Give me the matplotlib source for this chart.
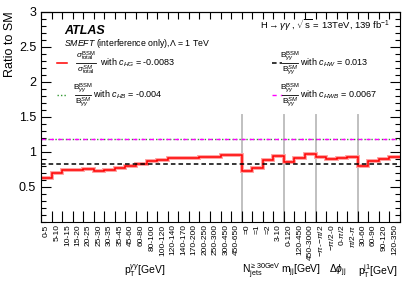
import numpy as np
import matplotlib.pyplot as plt

plt.rcParams['font.family'] = ['Liberation Sans', 'DejaVu Sans']
plt.rcParams['mathtext.fontset'] = 'custom'
plt.rcParams['mathtext.rm'] = 'Liberation Sans'
plt.rcParams['mathtext.it'] = 'Liberation Sans:italic'
plt.rcParams['mathtext.bf'] = 'Liberation Sans:bold'

bin_labels = ['0-5', '5-10', '10-15', '15-20', '20-25', '25-30', '30-35', '35-45',
              '45-60', '60-80', '80-100', '100-120', '120-140', '140-170', '170-200',
              '200-250', '250-300', '300-450', '450-650',
              '=0', '=1', '=2', '3-10',
              '0-120', '120-450', '450-3000',
              r'$-\pi$-$-\pi/2$', r'$-\pi/2$-0', r'0-$\pi/2$', r'$\pi/2$-$\pi$',
              '30-60', '60-90', '90-120', '120-350']

ratio_cHG = [0.62, 0.70, 0.74, 0.74, 0.76, 0.73, 0.74, 0.77, 0.79, 0.83,
             0.865, 0.88, 0.905, 0.91, 0.91, 0.93, 0.92, 0.95, 0.95,
             0.72, 0.77, 0.88, 0.935,
             0.86, 0.905, 0.965,
             0.92, 0.90, 0.91, 0.93,
             0.79, 0.87, 0.895, 0.92]

ratio_cHW = 0.82
ratio_cHB = 1.185
ratio_cHWB = 1.18

group_edges = [19, 23, 26, 30]
group_names = [r'p$_{\mathrm{T}}^{\gamma\gamma}$[GeV]', r'N$_{\mathrm{jets}}^{\geq 30\mathrm{GeV}}$',
               r'm$_{\mathrm{jj}}$[GeV]', r'$\Delta\phi_{\mathrm{jj}}$', r'p$_{\mathrm{T}}^{\mathrm{j1}}$[GeV]']
group_x = [145, 261, 301, 338, 378]

nb = len(ratio_cHG)
edges = np.arange(nb + 1)

W, H = 415, 289
fig = plt.figure(figsize=(4.15, 2.89), dpi=100)
ax = fig.add_axes([41 / W, 1 - 221.7 / H, 359 / W, 210 / H])

ax.stairs(ratio_cHG, edges, color='#ffa0a0', linewidth=2.8, baseline=None)
ax.stairs(ratio_cHG, edges, color='red', linewidth=1.1, baseline=None)
ax.plot([0, nb], [ratio_cHW] * 2, color='black', linestyle=(0, (3, 2)), linewidth=1.1)
ax.plot([0, nb], [ratio_cHB] * 2, color='#339933', linestyle=(0, (1, 1.5)), linewidth=1.0)
ax.plot([0, nb], [ratio_cHWB] * 2, color='magenta', linestyle=(0, (3, 3)), linewidth=1.0)

for e in group_edges:
    ax.plot([e, e], [0, 1.52], color='#c0c0c0', linewidth=1.4, zorder=0)

ax.set_xlim(0, nb)
ax.set_ylim(0, 3)
ax.set_xticks(edges)
ax.set_xticklabels([])
ax.set_xticks(edges[:-1] + 0.5, minor=True)
ax.set_xticklabels(bin_labels, minor=True, rotation=90, fontsize=6)
ax.tick_params(axis='x', which='major', direction='in', length=8, top=False, width=0.8)
ax.tick_params(axis='x', which='minor', length=0, pad=2)
sec = ax.secondary_xaxis('top')
sec.set_xticks(edges)
sec.tick_params(direction='in', length=5, labeltop=False, width=0.8)

ax.set_yticks([0.5, 1, 1.5, 2, 2.5, 3])
ax.set_yticklabels(['0.5', '1', '1.5', '2', '2.5', '3'], fontsize=9)
ax.set_yticks(np.arange(0, 3.01, 0.1), minor=True)
ax.tick_params(axis='y', which='major', direction='in', length=7, right=True, width=0.8)
ax.tick_params(axis='y', which='minor', direction='in', length=3.5, right=True, width=0.8)
ax.set_ylabel('Ratio to SM', fontsize=9, loc='top', labelpad=2)

for x, name in zip(group_x, group_names):
    fig.text(x / W, 1 - 271 / H, name, fontsize=7.5, ha='center', va='center')

fig.text(64 / W, 1 - 31 / H, 'ATLAS', fontsize=9, fontweight='bold', style='italic', va='center')
fig.text(64 / W, 1 - 44 / H, r'$\it{SMEFT}$ (interference only),$\Lambda$ = 1 TeV', fontsize=6.3, va='center')
fig.text(390 / W, 1 - 25 / H, r'H$\rightarrow\gamma\gamma$ , $\sqrt{\rm s}$ = 13TeV, 139 fb$^{-1}$',
         fontsize=6.8, ha='right', va='center')

sig_num = r'$\sigma^{\rm BSM}_{\rm total}$'
sig_den = r'$\sigma^{SM}_{\rm total}$'
b_num = r'B$^{\rm BSM}_{\gamma\gamma}$'
b_den = r'B$^{SM}_{\gamma\gamma}$'

entries = [
    (57, 63, 86, 100, 10, dict(color='red', linestyle='-', linewidth=1.1),
     sig_num, sig_den, r'with $c_{HG}$ = -0.0083'),
    (57, 95, 83, 93, 8, dict(color='#339933', linestyle=(0, (1, 1.5)), linewidth=1.0),
     b_num, b_den, r'with $c_{HB}$ = -0.004'),
    (272, 63, 290, 300, 8, dict(color='black', linestyle=(0, (3, 2)), linewidth=1.1),
     b_num, b_den, r'with $c_{HW}$ = 0.013'),
    (272, 95, 290, 300, 8, dict(color='magenta', linestyle=(0, (3, 3)), linewidth=1.0),
     b_num, b_den, r'with $c_{HWB}$ = 0.0067'),
]
for x, y, cx, tx, hw, style, num, den, label in entries:
    fig.add_artist(plt.Line2D([x / W, (x + 10) / W], [1 - y / H] * 2, **style))
    fig.text(cx / W, 1 - (y - 7) / H, num, fontsize=6, ha='center', va='center')
    fig.text(cx / W, 1 - (y + 7.5) / H, den, fontsize=6, ha='center', va='center')
    fig.add_artist(plt.Line2D([(cx - hw) / W, (cx + hw) / W], [1 - y / H] * 2, color='black', linewidth=0.6))
    fig.text(tx / W, 1 - y / H, label, fontsize=6.5, va='center')

fig.savefig('out.png', dpi=100)
